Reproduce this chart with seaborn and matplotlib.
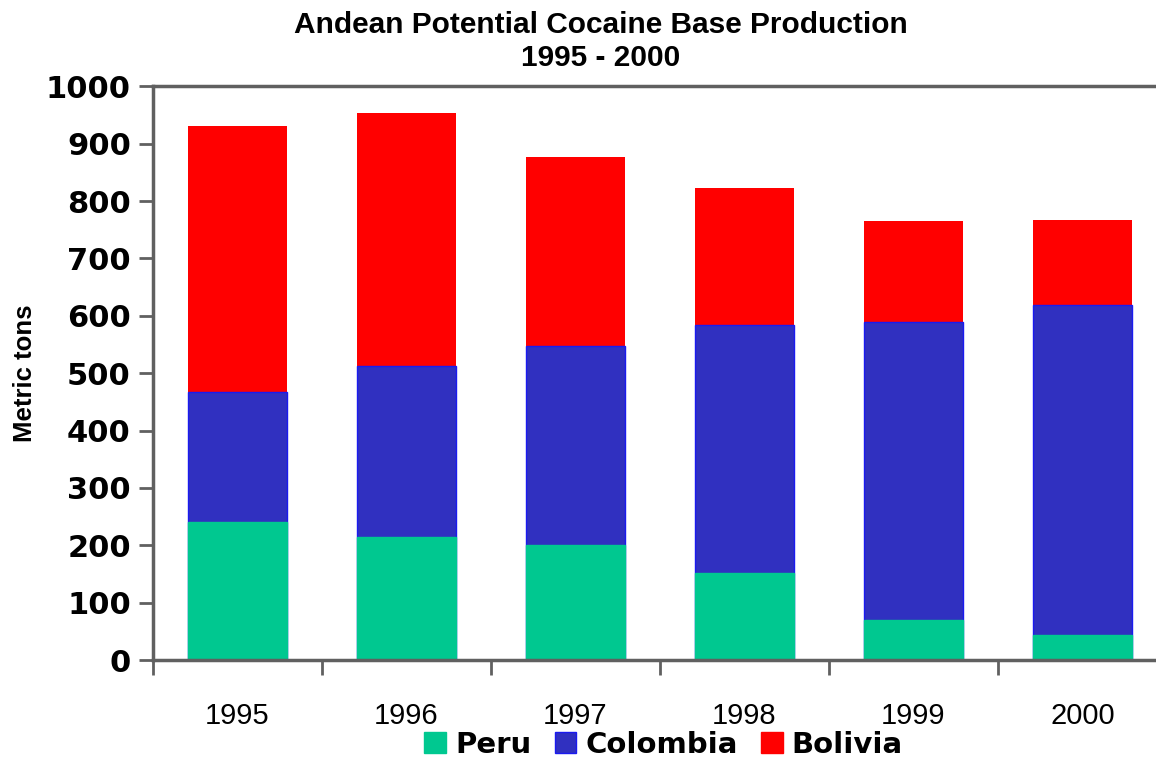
import matplotlib
matplotlib.use("Agg")
import matplotlib.pyplot as plt
import seaborn as sns
import pandas as pd
import numpy as np
from matplotlib.patches import Patch

years = ["1995", "1996", "1997", "1998", "1999", "2000"]
peru = [240, 215, 200, 152, 70, 44]
colombia = [227, 297, 347, 432, 519, 575]
bolivia = [463, 441, 329, 239, 177, 148]
series_names = ["Peru", "Colombia", "Bolivia"]
colors = {"Peru": "#00C890", "Colombia": "#3030C0", "Bolivia": "#FF0000"}
edges = {"Peru": "#00C890", "Colombia": "#1A1AF0", "Bolivia": "#FF0000"}
yticks = [0, 100, 200, 300, 400, 500, 600, 700, 800, 900, 1000]

sns.set_style("white")
plt.rcParams["font.family"] = ["Liberation Sans", "DejaVu Sans"]
plt.rcParams["text.color"] = "black"
plt.rcParams["axes.labelcolor"] = "black"
plt.rcParams["xtick.color"] = "black"
plt.rcParams["ytick.color"] = "black"

fig = plt.figure(figsize=(11.56, 7.57), dpi=100)
ax = fig.add_axes([0.1324, 0.128, 0.877, 0.758])

p = np.array(peru)
c = np.array(colombia)
b = np.array(bolivia)
stack_tops = {"Bolivia": p + c + b, "Colombia": p + c, "Peru": p}

for name in ["Bolivia", "Colombia", "Peru"]:
    df = pd.DataFrame({"year": years, "value": stack_tops[name]})
    sns.barplot(data=df, x="year", y="value", color=colors[name], ax=ax,
                width=0.59, saturation=1, edgecolor=edges[name],
                linewidth=0 if name == "Bolivia" else 1.0,
                errorbar=None)

ax.set_xlim(-0.5, 5.5)
ax.set_ylim(0, 1000)
ax.set_yticks(yticks)
ax.set_yticklabels([str(v) for v in yticks], fontfamily="DejaVu Sans",
                   fontweight="bold", fontsize=22)
ax.set_xticks(range(len(years)))
ax.set_xticklabels(years, fontsize=21)
ax.set_xticks(np.arange(-0.5, 6.0, 1.0), minor=True)
ax.tick_params(axis="x", which="major", bottom=True, length=0, pad=30)
ax.tick_params(axis="x", which="minor", bottom=True, length=11, width=2,
               color="#606060", direction="out")
ax.tick_params(axis="y", which="major", left=True, length=10, width=2,
               color="#606060", direction="out", pad=6)

for side in ["left", "bottom", "top"]:
    ax.spines[side].set_visible(True)
    ax.spines[side].set_color("#606060")
    ax.spines[side].set_linewidth(2.5)
ax.spines["right"].set_visible(False)

ax.set_xlabel("")
ax.set_ylabel("Metric tons", fontsize=18.5, fontweight="bold", labelpad=6)

fig.suptitle("Andean Potential Cocaine Base Production\n1995 - 2000",
             x=0.52, y=0.985, fontsize=21.5, fontweight="bold", linespacing=1.2)

handles = [Patch(facecolor=colors[n], edgecolor=edges[n]) for n in series_names]
leg = fig.legend(handles, series_names, loc="center", bbox_to_anchor=(0.574, 0.016),
                 ncol=3, frameon=False, handlelength=0.75, handleheight=0.75,
                 handletextpad=0.3, columnspacing=0.8,
                 prop={"family": "DejaVu Sans", "weight": "bold", "size": 21})

fig.savefig("out.png", dpi=100)
